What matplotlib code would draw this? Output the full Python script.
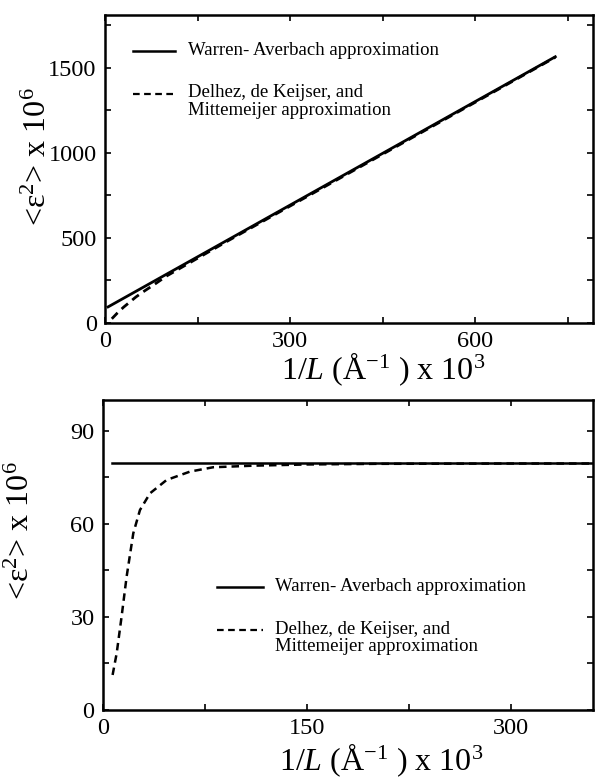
import matplotlib
matplotlib.use("Agg")
import matplotlib.pyplot as plt
from matplotlib.ticker import MultipleLocator

plt.rcParams["font.family"] = ["Liberation Serif", "DejaVu Serif"]
plt.rcParams["mathtext.fontset"] = "custom"
plt.rcParams["mathtext.rm"] = "Liberation Serif"
plt.rcParams["mathtext.it"] = "Liberation Serif:italic"

# upper panel: wide range of 1/L
top_wa_x = [5, 730]
top_wa_y = [94, 1565]
top_dkm_x = [11, 20, 30, 40, 50, 62, 80, 100, 200, 400, 600, 730]
top_dkm_y = [24, 58, 92, 122, 152, 183, 226, 276, 484, 890, 1297, 1562]

# lower panel: small 1/L region
bot_wa_x = [6.4, 360]
bot_wa_y = [79.6, 79.6]
bot_dkm_x = [7.1, 10.1, 13.7, 17.4, 22.3, 27.2, 34.6, 46.8, 64, 81, 110, 150, 200, 300, 360]
bot_dkm_y = [11.3, 18.3, 30.1, 43.0, 57.0, 64.5, 69.9, 74.2, 76.9, 78.3, 78.8, 79.2, 79.4, 79.5, 79.5]

wa_label = "Warren- Averbach approximation"
dkm_label = "Delhez, de Keijser, and\nMittemeijer approximation"
xlabel = r"1/$\mathit{L}$ (Å$^{-1}$ ) x 10$^{3}$"
ylabel = r"<ε$^{2}$> x 10$^{6}$"

fig = plt.figure(figsize=(5.95, 7.78), dpi=100)
ax1 = fig.add_axes([0.1765, 0.585, 0.820, 0.396])
ax2 = fig.add_axes([0.173, 0.0874, 0.8235, 0.3985])

dash = (3, 2)


def style_axes(ax, xmaj, xmin, ymaj, ymin):
    for s in ax.spines.values():
        s.set_linewidth(1.8)
    ax.xaxis.set_major_locator(MultipleLocator(xmaj))
    ax.xaxis.set_minor_locator(MultipleLocator(xmin))
    ax.yaxis.set_major_locator(MultipleLocator(ymaj))
    ax.yaxis.set_minor_locator(MultipleLocator(ymin))
    ax.tick_params(which="both", direction="in", top=True, right=True,
                   length=4, width=1.2)
    ax.tick_params(which="major", labelsize=17.5, pad=6)


def draw_key(ax, x0, x1, xt, y1, y2):
    ax.plot([x0, x1], [y1, y1], color="black", lw=1.8, transform=ax.transAxes)
    ax.plot([x0, x1], [y2, y2], color="black", lw=1.6, dashes=dash,
            transform=ax.transAxes)
    ax.text(xt, y1, wa_label, transform=ax.transAxes, fontsize=13.5,
            va="center", ha="left")
    ax.text(xt, y2 + 0.03, dkm_label, transform=ax.transAxes, fontsize=13.5,
            va="top", ha="left", linespacing=1.05)


# top panel
ax1.plot(top_wa_x, top_wa_y, color="black", lw=2.0)
ax1.plot(top_dkm_x, top_dkm_y, color="black", lw=2.0, dashes=dash)
ax1.set_xlim(0, 791)
ax1.set_ylim(0, 1812)
style_axes(ax1, 300, 150, 500, 250)
draw_key(ax1, 0.057, 0.143, 0.170, 0.883, 0.744)
ax1.set_xlabel(xlabel, fontsize=23, labelpad=0)
ax1.xaxis.set_label_coords(0.57, -0.09)
ax1.set_ylabel(ylabel, fontsize=23)
ax1.yaxis.set_label_coords(-0.106, 0.54)

# bottom panel
ax2.plot(bot_wa_x, bot_wa_y, color="black", lw=1.8)
ax2.plot(bot_dkm_x, bot_dkm_y, color="black", lw=1.8, dashes=dash)
ax2.set_xlim(0, 360)
ax2.set_ylim(0, 100)
style_axes(ax2, 150, 75, 30, 15)
draw_key(ax2, 0.233, 0.327, 0.351, 0.397, 0.258)
ax2.set_xlabel(xlabel, fontsize=23, labelpad=0)
ax2.xaxis.set_label_coords(0.567, -0.1)
ax2.set_ylabel(ylabel, fontsize=23)
ax2.yaxis.set_label_coords(-0.137, 0.577)

fig.savefig("out.png", dpi=100)
